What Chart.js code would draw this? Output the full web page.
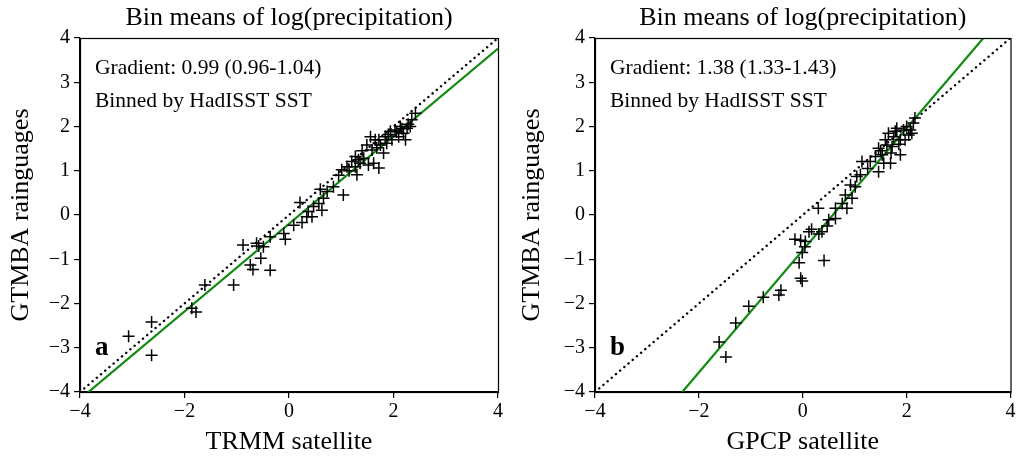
<!DOCTYPE html>
<html>
<head>
<meta charset="utf-8">
<script src="https://cdn.jsdelivr.net/npm/chart.js@4.4.1/dist/chart.umd.min.js"></script>
<style>
  html, body { margin: 0; padding: 0; background: #fff; }
  .wrap { position: absolute; top: 0; width: 509px; height: 461px; }
  #wa { left: 0; }
  #wb { left: 509px; }
</style>
</head>
<body>
<div class="wrap" id="wa"><canvas id="chartA"></canvas></div>
<div class="wrap" id="wb"><canvas id="chartB"></canvas></div>
<script>
/* bin means, panel a: TRMM vs GTMBA */
const trmmX = [-3.07, -2.63, -2.63, -1.86, -1.78, -1.61, -1.06, -0.88, -0.74, -0.69, -0.62, -0.58, -0.54, -0.49, -0.36, -0.36,
  -0.10, -0.07, 0.09, 0.21, 0.25, 0.34, 0.37, 0.44, 0.47, 0.57, 0.63, 0.66, 0.60, 0.73, 0.85, 1.04, 1.01, 1.11, 1.20, 1.27,
  1.27, 1.30, 1.36, 1.43, 1.49, 1.52, 1.56, 1.59, 1.62, 1.65, 1.72, 1.72, 1.75, 1.81, 1.84, 1.87, 1.94, 1.97, 2.03, 2.10,
  2.13, 2.19, 2.23, 2.26, 2.32, 2.35, 2.42, 1.15, 1.40, 1.68, 1.90, 2.06, 2.16, 1.33, 0.95, 2.28];
const trmmY = [-2.74, -2.42, -3.17, -2.11, -2.19, -1.58, -1.58, -0.68, -1.13, -1.23, -0.64, -0.70, -0.98, -0.72, -1.25, -0.49,
  -0.42, -0.55, -0.23, 0.28, -0.17, -0.04, 0.08, -0.04, 0.19, 0.26, 0.11, 0.38, 0.58, 0.53, 0.64, 0.45, 1.02, 1.09, 1.21, 1.32,
  1.09, 0.91, 1.17, 1.28, 1.58, 1.13, 1.77, 1.47, 1.17, 1.70, 1.06, 1.70, 1.58, 1.40, 1.77, 1.62, 1.89, 1.70, 1.92, 1.77,
  2.00, 1.85, 1.70, 1.96, 2.00, 2.15, 2.30, 1.00, 1.45, 1.52, 1.82, 1.88, 1.95, 1.25, 0.90, 2.05];

/* bin means, panel b: GPCP vs GTMBA */
const gpcpX = [-1.61, -1.48, -1.29, -1.04, -0.76, -0.46, -0.42, -0.04, -0.01, -0.07, 0.41, -0.01, 0.04, -0.15, -0.04, 0.12,
  0.17, 0.31, 0.37, 0.30, 0.47, 0.50, 0.63, 0.63, 0.76, 0.85, 0.82, 0.95, 0.92, 1.01, 1.04, 1.11, 1.14, 1.30, 1.46, 1.40,
  1.46, 1.53, 1.56, 1.62, 1.69, 1.72, 1.75, 1.78, 1.88, 1.88, 1.94, 1.97, 2.00, 2.04, 2.07, 2.13, 2.16, 1.59, 1.65, 1.81,
  1.50, 1.85, 2.10, 1.25, 1.70, 0.05];
const gpcpY = [-2.87, -3.21, -2.44, -2.06, -1.86, -1.81, -1.70, -1.43, -1.49, -1.08, -1.03, -0.85, -0.72, -0.55, -0.57, -0.38,
  -0.32, -0.43, -0.38, 0.15, -0.25, -0.11, -0.08, 0.15, 0.26, 0.15, 0.45, 0.38, 0.68, 0.64, 0.87, 0.91, 1.21, 1.21, 0.98, 1.32,
  1.51, 1.36, 1.17, 1.58, 1.17, 1.55, 1.77, 1.89, 1.36, 1.70, 1.92, 1.70, 2.00, 1.81, 1.92, 2.08, 2.19, 1.70, 1.85, 1.96,
  1.45, 1.60, 1.85, 1.05, 1.40, -0.60];

/* 1:1 line and fitted lines (end points) */
const oneToOne = [[-4, -4], [4, 4]];
const fitA = [[-4, -4.16], [4, 3.76]];
const fitB = [[-2.32, -4], [3.5, 4.03]];

const FONT = "'Liberation Serif', 'Times New Roman', serif";

const toPts = (xs, ys) => xs.map((x, i) => ({ x: x, y: ys[i] }));
const toLine = (arr) => arr.map(p => ({ x: p[0], y: p[1] }));
const minus = (v) => String(v).replace('-', '\u2212');

/* khung, tiêu đề và chú thích vẽ thêm */
const extras = {
    id: 'extras',
    afterDraw(chart, args, opts) {
        const { ctx, chartArea: a } = chart;
        ctx.save();
        ctx.strokeStyle = '#000';
        ctx.lineWidth = 1.2;
        ctx.strokeRect(a.left + 0.5, a.top + 0.5, a.right - a.left, a.bottom - a.top);
        ctx.fillStyle = '#000';
        ctx.textAlign = 'center';
        ctx.textBaseline = 'middle';
        ctx.font = `26px ${FONT}`;
        ctx.fillText('Bin means of log(precipitation)', (a.left + a.right) / 2, 18);
        ctx.textAlign = 'left';
        ctx.font = `21.5px ${FONT}`;
        ctx.fillText(opts.grad, a.left + 15, 68);
        ctx.fillText('Binned by HadISST SST', a.left + 15, 101);
        ctx.font = `bold 27px ${FONT}`;
        ctx.fillText(opts.tag, a.left + 15, 348);
        ctx.restore();
    }
};

function drawPanel(id, xs, ys, fit, xTitle, grad, tag, yWidth, padRight, yTitlePad) {
    return new Chart(document.getElementById(id), {
        type: 'scatter',
        data: {
            datasets: [
                {
                    type: 'line', data: toLine(oneToOne), borderColor: '#000', borderWidth: 2.4,
                    borderDash: [0.1, 5.4], borderCapStyle: 'round', pointRadius: 0, order: 3
                },
                {
                    type: 'line', data: toLine(fit), borderColor: '#128a12', borderWidth: 2.2,
                    pointRadius: 0, order: 2
                },
                {
                    data: toPts(xs, ys), pointStyle: 'cross', pointRadius: 6, borderColor: '#000',
                    backgroundColor: '#000', pointBorderWidth: 1.5, order: 1
                }
            ]
        },
        plugins: [extras],
        options: {
            responsive: true, maintainAspectRatio: false, animation: false,
            layout: { padding: { top: 38, right: padRight, left: 0, bottom: 0 } },
            scales: {
                x: {
                    type: 'linear', min: -4, max: 4,
                    afterFit: (s) => { s.height = 69; },
                    ticks: { stepSize: 2, padding: 2, color: '#000', font: { family: FONT, size: 20 }, callback: minus },
                    grid: { drawOnChartArea: false, drawTicks: true, tickLength: 6, color: '#000', lineWidth: 1.2 },
                    border: { color: '#000', width: 1.2 },
                    title: { display: true, text: xTitle, color: '#000', font: { family: FONT, size: 26 }, padding: { top: 0, bottom: 3 } }
                },
                y: {
                    type: 'linear', min: -4, max: 4,
                    afterFit: (s) => { s.width = yWidth; },
                    ticks: { stepSize: 1, padding: 4, color: '#000', font: { family: FONT, size: 20 }, callback: minus },
                    grid: { drawOnChartArea: false, drawTicks: true, tickLength: 6, color: '#000', lineWidth: 1.2 },
                    border: { color: '#000', width: 1.2 },
                    title: { display: true, text: 'GTMBA rainguages', color: '#000', font: { family: FONT, size: 26 }, padding: { top: yTitlePad, bottom: 0 } }
                }
            },
            plugins: {
                legend: { display: false },
                tooltip: { enabled: false },
                extras: { grad: grad, tag: tag }
            }
        }
    });
}

drawPanel('chartA', trmmX, trmmY, fitA, 'TRMM satellite', 'Gradient: 0.99 (0.96-1.04)', 'a', 80, 11, 6);
drawPanel('chartB', gpcpX, gpcpY, fitB, 'GPCP satellite', 'Gradient: 1.38 (1.33-1.43)', 'b', 86, 5, 8);
</script>
</body>
</html>
